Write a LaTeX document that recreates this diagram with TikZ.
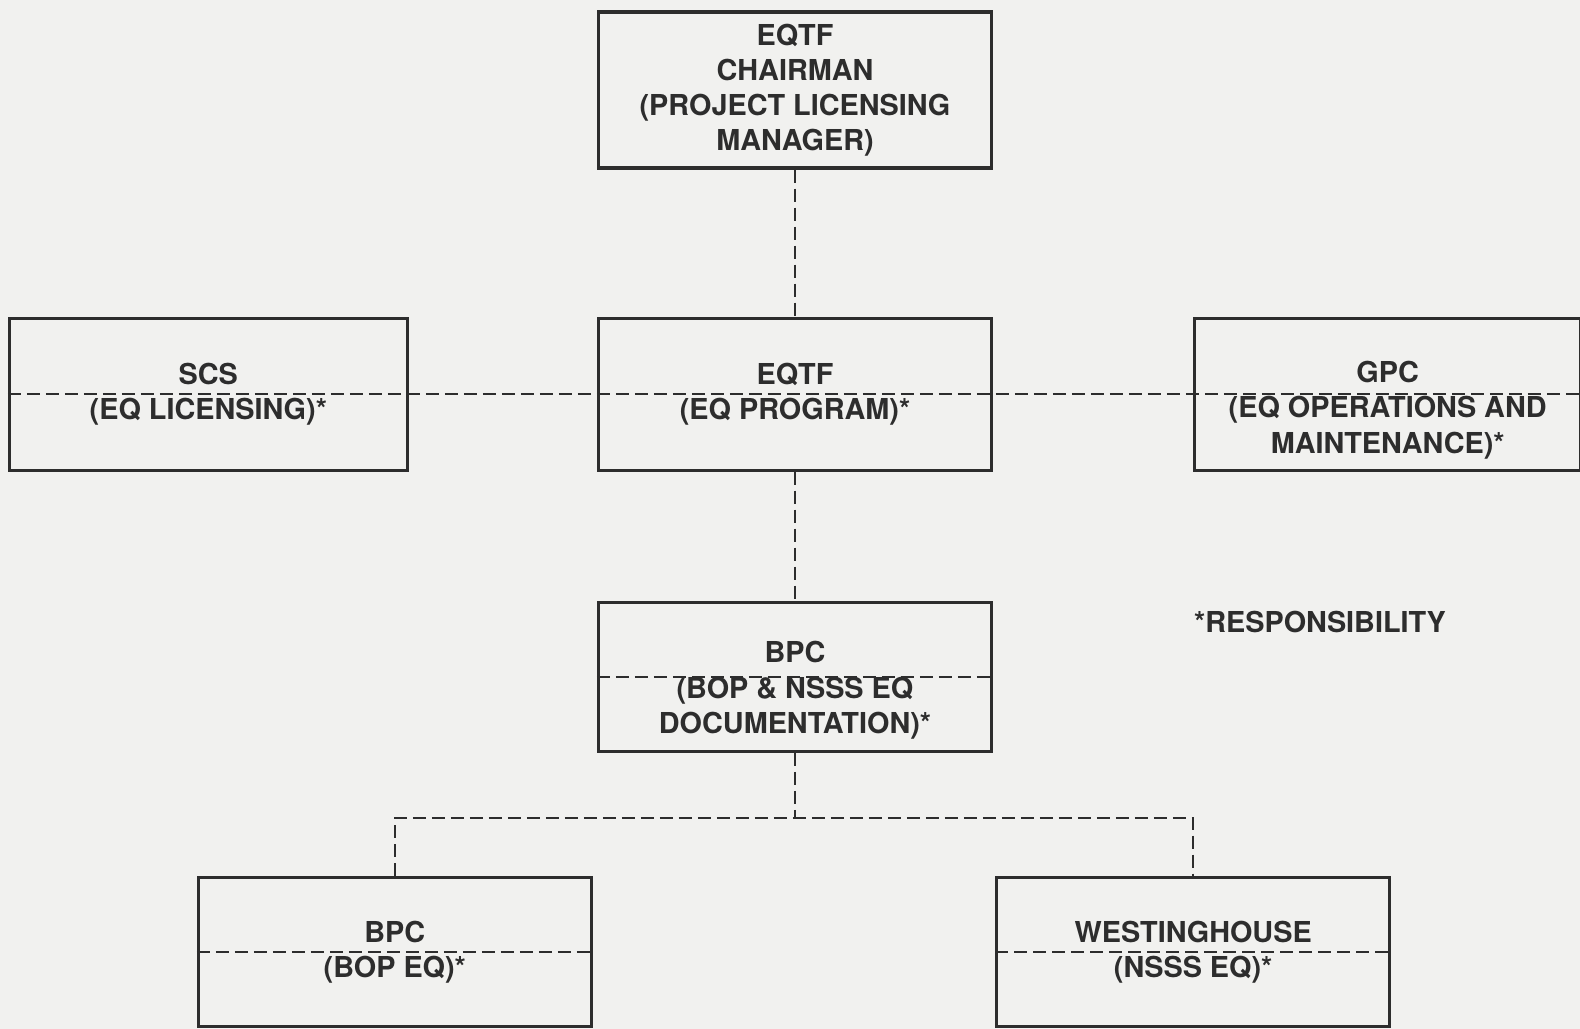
\documentclass[tikz,border=0pt]{standalone}
\usepackage{fontspec}
\setmainfont{TeX Gyre Heros}
\usetikzlibrary{positioning}
\definecolor{paper}{RGB}{241,241,239}
\definecolor{ink}{RGB}{45,45,45}
\tikzset{
  every node/.style={text=ink, font=\bfseries\fontsize{8.2}{10}\selectfont},
  box/.style={draw=ink, line width=0.9pt, minimum width=3.93cm,
    minimum height=1.49cm, inner sep=0pt, align=center},
  txt/.style={align=center, inner sep=0pt},
  link/.style={draw=ink, line width=0.6pt, dash pattern=on 0.13cm off 0.06cm}
}

\begin{document}
\begin{tikzpicture}
  \fill[paper] (0,0) rectangle (15.8,-10.29);
  \useasboundingbox (0,0) rectangle (15.8,-10.29);

  \node[box, minimum height=1.56cm] (chair) at (7.95,-0.90)
    {EQTF\\CHAIRMAN\\(PROJECT LICENSING\\MANAGER)};
  \node[box, below=1.47cm of chair, minimum height=1.52cm] (prog)
    {EQTF\\(EQ PROGRAM)*};
  \node[box, left=1.88cm of prog, minimum height=1.52cm, minimum width=3.98cm] (scs)
    {SCS\\(EQ LICENSING)*};
  \node[box, right=2.0cm of prog, minimum height=1.52cm, minimum width=3.86cm] (gpc) {};
  \node[txt] (gpctxt) at ([yshift=-0.16cm]gpc.center)
    {GPC\\(EQ OPERATIONS AND\\MAINTENANCE)*};
  \node[box, below=1.29cm of prog] (bpc) {};
  \node[txt] (bpctxt) at ([yshift=-0.135cm]bpc.center)
    {BPC\\(BOP \& NSSS EQ\\DOCUMENTATION)*};
  \node[box, below left=1.23cm and 0.04cm of bpc] (bop) {BPC\\(BOP EQ)*};
  \node[box, below right=1.23cm and 0.02cm of bpc] (nsss) {WESTINGHOUSE\\(NSSS EQ)*};
  \node[txt] (resp) at (13.20,-6.22) {*RESPONSIBILITY};

  % links
  \coordinate[below=0.65cm of bpc.south] (split);
  \draw[link] (chair) -- (prog);
  \draw[link] (scs.west) -- (gpc.east);
  \draw[link] (prog) -- (bpc);
  \draw[link] (bpc.west) -- (bpc.east);
  \draw[link] (bpc) -- (split);
  \draw[link] (bop.north) |- (split) -| (nsss.north);
  \draw[link] (bop.west) -- (bop.east);
  \draw[link] (nsss.west) -- (nsss.east);
\end{tikzpicture}
\end{document}
